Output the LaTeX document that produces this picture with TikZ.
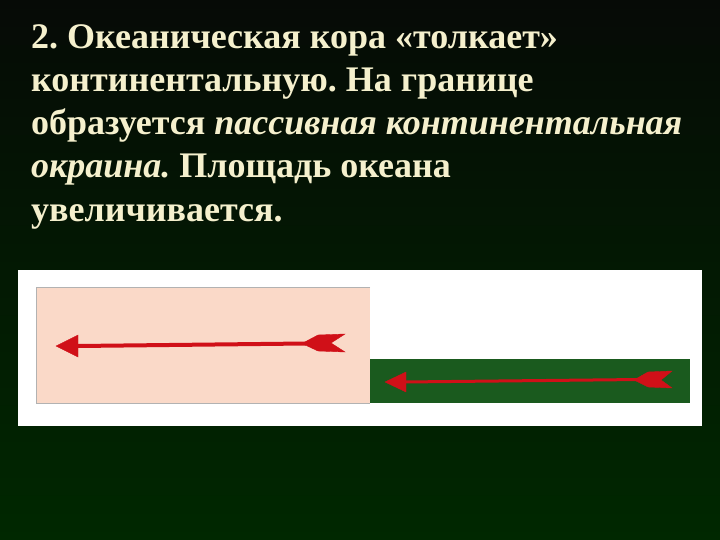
\documentclass[tikz,border=0pt]{standalone}
\usepackage{fontspec}
\setmainfont{Liberation Serif}
\usepackage{tikz}
\usetikzlibrary{calc}

\definecolor{bgtop}{RGB}{6,10,6}
\definecolor{bgbottom}{RGB}{0,40,0}
\definecolor{cream}{RGB}{245,240,205}
\definecolor{crust}{RGB}{250,217,200}
\definecolor{ocean}{RGB}{26,90,30}
\definecolor{arrowred}{RGB}{208,16,24}

\begin{document}
\frenchspacing
\begin{tikzpicture}[x=1pt,y=-1pt]
	\def\shaft{4}
	
	\useasboundingbox (0,0) rectangle (720,540);
	\shade[top color=bgtop, bottom color=bgbottom] (0,0) rectangle (720,540);

	\node[anchor=north west, inner sep=0pt, align=left, text=cream, font=\fontsize{36}{43.3}\selectfont\bfseries] (title) at (31,24)
	{2. Океаническая кора «толкает»\\
	континентальную. На границе\\
	образуется \textit{пассивная континентальная}\\
	\textit{окраина.} Площадь океана\\
	увеличивается.};

	% panel with the two plates
	\coordinate (Panel) at (18,270);
	\coordinate (Cont) at (36,287);
	\coordinate (Ocean) at (370,359);
	\fill[white] (Panel) rectangle ++(684,156);
	\fill[crust] (Cont) rectangle (370,403);
	\draw[gray!60] (370,287) -- (Cont) -- (36,403) -- (370,403);
	\fill[ocean] (Ocean) rectangle (690,403);

	% arrow on the continent
	\coordinate (ContTip) at (56,346);
	\coordinate (ContTail) at (345,343);
	\draw[arrowred, line width=\shaft] (78,346) -- (306,343.5);
	\draw[fill, arrowred] (ContTip) -- ++(22,-11) -- ++(0,22) -- cycle;
	\draw[fill, arrowred] (302,343.5) -- (318,335) -- (ContTail |- 0,334) -- (331,343) -- (ContTail |- 0,352) -- (318,351) -- cycle;

	% arrow on the ocean
	\coordinate (OceanTip) at (385,382);
	\coordinate (OceanTail) at (672,379);
	\draw[arrowred, line width=3] (404,382) -- (640,379.5);
	\draw[fill, arrowred] (OceanTip) -- ++(21,-10) -- ++(0,20) -- cycle;
	\draw[fill, arrowred] (634,380) -- (648,372) -- (OceanTail |- 0,371) -- (661,380) -- (OceanTail |- 0,388) -- (648,387) -- cycle;
\end{tikzpicture}
\end{document}
